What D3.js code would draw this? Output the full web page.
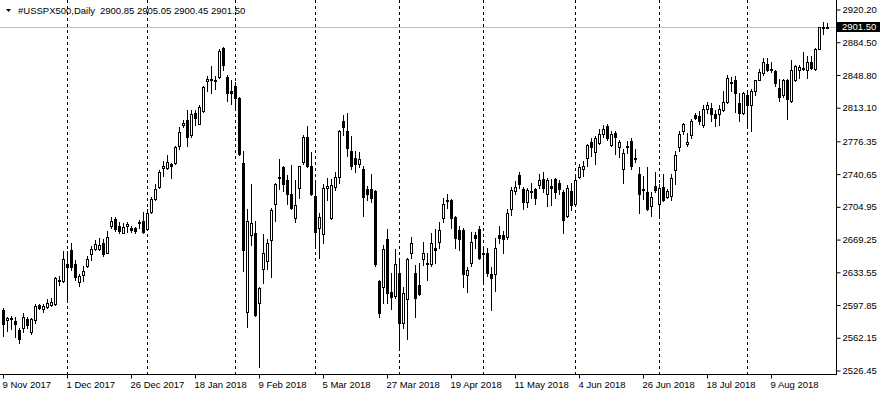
<!DOCTYPE html>
<html lang="en">
<head>
<meta charset="UTF-8">
<title>#USSPX500 Daily</title>
<script src="https://d3js.org/d3.v7.min.js"></script>
<style>
    body { margin: 0; background: #fff; }
    svg { display: block; }
    text { font-family: "Liberation Sans", Arial, sans-serif; font-size: 9.5px; fill: #000; }
</style>
</head>
<body>
<svg width="880" height="395"></svg>
<script>
    // daily bars, 9 Nov 2017 .. 29 Aug 2018
    const open = [
        2591.9, 2581.0, 2582.1, 2579.9, 2570.1, 2572.3, 2582.1, 2567.9, 2581.0, 2598.4,
        2593.0, 2595.2, 2598.4, 2599.5, 2624.6, 2624.6, 2642.1, 2658.4, 2643.1, 2623.5,
        2631.1, 2639.9, 2653.0, 2659.5, 2659.5, 2666.0, 2655.1, 2684.6, 2692.2, 2684.6,
        2676.9, 2684.6, 2682.4, 2682.4, 2686.8, 2689.0, 2681.3, 2698.8, 2714.0, 2727.1,
        2746.8, 2746.8, 2752.2, 2753.3, 2770.8, 2793.7, 2800.2, 2783.8, 2806.8, 2795.8,
        2810.0, 2841.7, 2844.9, 2843.8, 2847.1, 2878.7, 2847.1, 2831.8, 2837.3, 2824.2,
        2753.3, 2590.8, 2673.7, 2676.9, 2600.6, 2637.7, 2646.4, 2669.3, 2708.6, 2736.9,
        2747.9, 2733.7, 2719.5, 2693.3, 2726.0, 2754.4, 2780.6, 2750.0, 2717.3, 2682.4,
        2674.8, 2726.0, 2693.3, 2727.1, 2738.0, 2799.1, 2788.2, 2766.4, 2757.7, 2752.2,
        2745.7, 2724.9, 2723.9, 2721.7, 2624.6, 2617.0, 2670.4, 2612.6, 2607.2, 2633.3,
        2578.8, 2603.9, 2654.1, 2633.3, 2620.2, 2648.6, 2643.1, 2643.1, 2660.6, 2666.1,
        2693.3, 2712.9, 2711.9, 2694.4, 2680.2, 2680.2, 2631.1, 2644.2, 2673.7, 2681.3,
        2654.1, 2654.1, 2632.2, 2632.2, 2673.7, 2673.7, 2672.6, 2703.1, 2721.7, 2740.2,
        2723.9, 2709.7, 2721.7, 2724.9, 2729.3, 2734.8, 2719.5, 2728.2, 2734.8, 2731.5,
        2720.6, 2695.5, 2721.7, 2708.6, 2738.0, 2745.7, 2757.7, 2776.2, 2765.3, 2775.1,
        2784.9, 2792.6, 2772.9, 2786.0, 2769.7, 2745.7, 2770.8, 2777.3, 2757.7, 2741.3,
        2724.9, 2720.6, 2706.4, 2728.2, 2708.6, 2727.1, 2716.2, 2717.3, 2744.6, 2769.7,
        2788.2, 2774.0, 2782.8, 2804.6, 2803.5, 2793.7, 2812.2, 2813.3, 2805.7, 2805.7,
        2811.1, 2818.8, 2839.5, 2842.8, 2817.7, 2806.8, 2826.4, 2815.5, 2830.8, 2843.8,
        2850.4, 2861.3, 2855.8, 2852.6, 2835.1, 2826.4, 2842.8, 2820.9, 2842.8, 2853.7,
        2855.8, 2854.7, 2862.4, 2855.8, 2877.6, 2900.6, 2900.85
    ];
    const high = [
        2594.1, 2585.3, 2586.4, 2584.3, 2572.3, 2589.7, 2584.3, 2583.2, 2599.5, 2599.5,
        2599.5, 2603.9, 2605.0, 2627.9, 2629.0, 2657.3, 2657.3, 2665.0, 2647.5, 2632.2,
        2639.9, 2650.8, 2661.7, 2669.3, 2671.5, 2670.4, 2679.1, 2694.4, 2694.4, 2687.9,
        2686.8, 2687.9, 2684.6, 2683.5, 2691.1, 2698.8, 2703.1, 2716.2, 2730.4, 2744.6,
        2755.5, 2762.0, 2753.3, 2770.8, 2791.5, 2800.2, 2811.1, 2811.1, 2811.1, 2815.5,
        2837.3, 2848.2, 2859.1, 2848.2, 2877.6, 2879.8, 2849.3, 2843.8, 2840.6, 2825.3,
        2766.4, 2703.1, 2730.4, 2690.0, 2617.0, 2674.8, 2670.4, 2704.2, 2731.5, 2756.6,
        2749.0, 2740.2, 2751.1, 2733.7, 2750.0, 2783.8, 2792.6, 2765.3, 2731.5, 2697.7,
        2730.4, 2736.9, 2734.8, 2743.5, 2789.3, 2804.6, 2806.8, 2781.7, 2766.4, 2765.3,
        2749.0, 2728.2, 2741.3, 2722.8, 2625.7, 2662.8, 2681.3, 2633.3, 2659.5, 2649.7,
        2617.0, 2649.7, 2672.6, 2641.0, 2644.2, 2666.1, 2654.1, 2675.9, 2681.3, 2687.9,
        2715.1, 2719.5, 2714.0, 2695.5, 2684.6, 2682.4, 2638.8, 2678.0, 2678.0, 2684.6,
        2660.6, 2660.6, 2638.8, 2671.5, 2684.6, 2679.1, 2703.1, 2727.1, 2732.6, 2743.5,
        2727.1, 2726.0, 2731.5, 2726.0, 2741.3, 2743.5, 2735.9, 2734.8, 2736.9, 2733.7,
        2722.8, 2729.3, 2731.5, 2739.1, 2752.2, 2755.5, 2774.0, 2779.5, 2781.7, 2790.4,
        2793.7, 2794.8, 2788.2, 2788.2, 2778.4, 2767.5, 2777.3, 2779.5, 2767.5, 2747.9,
        2739.1, 2747.9, 2720.6, 2743.5, 2730.4, 2741.3, 2723.9, 2741.3, 2766.4, 2788.2,
        2796.9, 2786.0, 2801.3, 2806.8, 2810.0, 2815.5, 2818.8, 2817.7, 2811.1, 2815.5,
        2831.8, 2849.3, 2847.1, 2848.2, 2828.6, 2829.7, 2831.8, 2834.0, 2843.8, 2855.8,
        2866.8, 2866.8, 2862.4, 2853.7, 2844.9, 2844.9, 2844.9, 2864.6, 2860.2, 2860.2,
        2873.3, 2870.0, 2870.0, 2878.7, 2901.6, 2907.1, 2905.05
    ];
    const low = [
        2564.6, 2569.0, 2571.2, 2563.5, 2555.9, 2567.9, 2573.3, 2566.8, 2578.8, 2593.0,
        2590.8, 2594.1, 2597.3, 2598.4, 2619.2, 2623.5, 2602.8, 2636.6, 2625.7, 2618.1,
        2624.6, 2638.8, 2647.5, 2658.4, 2658.4, 2650.8, 2654.1, 2682.4, 2679.1, 2675.9,
        2675.9, 2678.0, 2678.0, 2676.9, 2682.4, 2676.9, 2680.2, 2697.7, 2712.9, 2726.0,
        2739.1, 2745.7, 2736.9, 2752.2, 2767.5, 2791.5, 2770.8, 2780.6, 2793.7, 2794.8,
        2807.9, 2830.8, 2828.6, 2834.0, 2846.0, 2854.7, 2820.9, 2816.6, 2813.3, 2762.0,
        2635.5, 2574.4, 2662.8, 2586.4, 2530.8, 2622.4, 2637.7, 2627.9, 2690.0, 2723.9,
        2721.7, 2708.6, 2703.1, 2688.9, 2715.1, 2752.2, 2748.9, 2718.4, 2660.6, 2649.7,
        2665.0, 2712.9, 2692.2, 2722.8, 2731.5, 2782.8, 2760.9, 2745.7, 2743.5, 2747.9,
        2695.5, 2711.9, 2709.7, 2639.9, 2584.3, 2600.6, 2600.6, 2593.0, 2605.0, 2551.5,
        2572.3, 2560.3, 2649.7, 2584.3, 2609.3, 2641.0, 2625.7, 2639.9, 2644.2, 2660.6,
        2687.9, 2704.2, 2682.4, 2660.6, 2658.4, 2617.0, 2612.6, 2639.9, 2660.6, 2648.6,
        2624.6, 2630.0, 2591.9, 2613.7, 2665.0, 2654.1, 2670.4, 2696.6, 2719.5, 2726.0,
        2703.1, 2705.3, 2715.1, 2708.6, 2726.0, 2720.6, 2706.4, 2707.5, 2715.1, 2719.5,
        2675.9, 2694.4, 2702.0, 2707.5, 2736.9, 2739.1, 2750.0, 2760.9, 2752.2, 2774.0,
        2780.6, 2778.4, 2771.8, 2763.1, 2758.8, 2731.5, 2764.2, 2745.7, 2754.4, 2697.7,
        2714.0, 2701.0, 2695.5, 2720.6, 2693.3, 2710.8, 2715.1, 2712.9, 2730.4, 2766.4,
        2784.9, 2771.8, 2779.5, 2801.3, 2794.8, 2791.5, 2806.8, 2799.1, 2792.6, 2793.7,
        2810.0, 2817.7, 2831.8, 2807.9, 2799.1, 2805.7, 2792.6, 2788.2, 2826.4, 2842.8,
        2849.3, 2852.6, 2851.5, 2837.3, 2820.9, 2825.3, 2801.3, 2819.8, 2841.7, 2846.0,
        2853.7, 2846.0, 2855.8, 2854.7, 2876.6, 2894.0, 2900.45
    ];
    const close = [
        2577.7, 2583.2, 2583.2, 2577.7, 2561.3, 2584.3, 2576.6, 2582.1, 2597.3, 2594.1,
        2597.3, 2600.6, 2601.7, 2626.8, 2625.7, 2648.6, 2638.8, 2638.8, 2627.9, 2629.0,
        2635.5, 2648.6, 2659.5, 2663.9, 2662.8, 2653.0, 2672.6, 2690.0, 2681.3, 2679.1,
        2683.5, 2685.7, 2680.2, 2679.1, 2687.9, 2678.0, 2697.7, 2714.0, 2724.9, 2743.5,
        2750.0, 2754.4, 2750.0, 2769.7, 2787.1, 2796.9, 2780.6, 2805.7, 2802.4, 2814.4,
        2836.2, 2844.9, 2842.8, 2841.7, 2874.4, 2860.2, 2828.6, 2828.6, 2824.2, 2763.1,
        2658.4, 2690.0, 2686.8, 2587.5, 2615.9, 2655.1, 2665.0, 2701.0, 2730.4, 2738.0,
        2730.4, 2719.5, 2704.2, 2707.5, 2749.0, 2780.6, 2750.0, 2719.5, 2678.0, 2694.4,
        2726.0, 2728.2, 2729.3, 2738.0, 2788.2, 2791.5, 2768.6, 2750.0, 2752.2, 2756.6,
        2716.2, 2719.5, 2715.1, 2643.1, 2589.7, 2659.5, 2611.5, 2606.1, 2643.1, 2578.8,
        2611.5, 2648.6, 2665.0, 2605.0, 2610.4, 2655.1, 2644.2, 2665.0, 2658.4, 2680.2,
        2708.6, 2710.8, 2693.3, 2671.5, 2670.4, 2632.2, 2636.6, 2667.1, 2671.5, 2649.7,
        2653.0, 2633.3, 2626.8, 2660.6, 2671.5, 2670.4, 2697.7, 2722.8, 2727.1, 2730.4,
        2709.7, 2722.8, 2720.6, 2715.1, 2733.7, 2726.0, 2733.7, 2726.0, 2720.6, 2724.9,
        2691.1, 2726.0, 2707.5, 2733.7, 2747.9, 2750.0, 2771.9, 2769.7, 2779.5, 2784.9,
        2790.4, 2779.5, 2784.9, 2780.6, 2776.2, 2764.2, 2769.7, 2750.0, 2756.6, 2719.5,
        2723.9, 2703.1, 2716.2, 2722.8, 2726.0, 2712.9, 2721.7, 2736.9, 2762.0, 2784.9,
        2795.8, 2776.2, 2799.1, 2802.4, 2799.1, 2812.2, 2815.5, 2805.7, 2802.4, 2812.2,
        2819.8, 2846.0, 2840.6, 2828.6, 2806.8, 2828.6, 2815.5, 2831.8, 2842.8, 2851.5,
        2862.4, 2853.7, 2853.7, 2839.5, 2825.3, 2842.8, 2823.1, 2853.7, 2859.1, 2858.0,
        2856.9, 2862.4, 2856.9, 2877.6, 2900.6, 2901.6, 2901.50
    ];

    // one date label every 16 bars
    const tickLabels = ["9 Nov 2017", "1 Dec 2017", "26 Dec 2017", "18 Jan 2018", "9 Feb 2018",
        "5 Mar 2018", "27 Mar 2018", "19 Apr 2018", "11 May 2018", "4 Jun 2018",
        "26 Jun 2018", "18 Jul 2018", "9 Aug 2018"];
    const tickStep = 16;
    // bar index of the first bar of each month (period separators)
    const monthStarts = [16, 36, 58, 78, 99, 120, 143, 164, 186];
    const priceTicks = [2526.45, 2562.15, 2597.85, 2633.55, 2669.25, 2704.95,
        2740.65, 2776.35, 2813.10, 2848.80, 2884.50, 2920.20];
    const symbol = "#USSPX500,Daily";
    const lastBid = 2901.50;

    const svg = d3.select("svg");
    const plotW = 836, plotH = 374;
    const n = open.length;

    const x = d3.scaleLinear()
        .domain([0, n - 1])
        .range([3.5, 3.5 + 4 * (n - 1)]);

    const y = d3.scaleLinear()
        .domain([2526.45, 2920.20])
        .range([370.5, 9.5]);

    // month separators
    svg.append("g")
        .selectAll("line")
        .data(monthStarts)
        .join("line")
        .attr("x1", d => Math.floor(x(d)) + 0.5)
        .attr("x2", d => Math.floor(x(d)) + 0.5)
        .attr("y1", 0)
        .attr("y2", plotH)
        .attr("stroke", "#000")
        .attr("stroke-dasharray", "3,3");

    // bid line
    svg.append("line")
        .attr("x1", 0).attr("x2", plotW)
        .attr("y1", Math.round(y(lastBid)) + 0.5)
        .attr("y2", Math.round(y(lastBid)) + 0.5)
        .attr("stroke", "#c0c0c0");

    const bars = d3.range(n);
    const candles = svg.append("g").attr("shape-rendering", "crispEdges");

    candles.selectAll("line")
        .data(bars)
        .join("line")
        .attr("x1", i => Math.floor(x(i)) + 0.5)
        .attr("x2", i => Math.floor(x(i)) + 0.5)
        .attr("y1", i => Math.round(y(high[i])))
        .attr("y2", i => Math.round(y(low[i])) + 1)
        .attr("stroke", "#000");

    candles.selectAll("rect")
        .data(bars)
        .join("rect")
        .each(function(i) {
            const r = d3.select(this);
            const cx = Math.floor(x(i));
            const yo = Math.round(y(open[i])), yc = Math.round(y(close[i]));
            if (close[i] > open[i]) {
                r.attr("x", cx - 0.5).attr("width", 2)
                    .attr("y", yc + 0.5).attr("height", Math.max(yo - yc, 1))
                    .attr("fill", "#fff").attr("stroke", "#000");
            } else {
                r.attr("x", cx - 1).attr("width", 3)
                    .attr("y", yo).attr("height", Math.max(yc - yo, 1) + 1)
                    .attr("fill", "#000");
            }
        });

    // axes frame
    svg.append("line")
        .attr("x1", 0).attr("x2", plotW + 1)
        .attr("y1", plotH + 0.5).attr("y2", plotH + 0.5)
        .attr("stroke", "#000");
    svg.append("line")
        .attr("x1", plotW + 0.5).attr("x2", plotW + 0.5)
        .attr("y1", 0).attr("y2", plotH + 1)
        .attr("stroke", "#000");

    const yAxis = svg.append("g")
        .attr("transform", `translate(${plotW + 0.5},0)`)
        .call(d3.axisRight(y).tickValues(priceTicks).tickFormat(d3.format(".2f")).tickSize(4).tickPadding(2));
    yAxis.select(".domain").remove();
    yAxis.selectAll("text").attr("font-family", null).attr("font-size", null);

    const xAxis = svg.append("g")
        .attr("transform", `translate(0,${plotH + 0.5})`)
        .call(d3.axisBottom(x)
            .tickValues(tickLabels.map((d, k) => k * tickStep))
            .tickFormat((d, k) => tickLabels[k])
            .tickSize(4).tickPadding(3));
    xAxis.select(".domain").remove();
    xAxis.selectAll(".tick line").attr("transform", "translate(-0.5,0)");
    xAxis.selectAll("text")
        .attr("text-anchor", "start")
        .attr("dx", -1.5)
        .attr("font-family", null).attr("font-size", null);

    // current price marker on the scale
    const by = Math.round(y(lastBid));
    svg.append("rect")
        .attr("x", plotW + 1).attr("y", by - 5)
        .attr("width", 880 - plotW - 1).attr("height", 10)
        .attr("fill", "#000");
    svg.append("text")
        .attr("x", plotW + 6).attr("y", by)
        .attr("dy", "0.35em")
        .style("fill", "#fff")
        .text(d3.format(".2f")(lastBid));

    // header: symbol and OHLC of the last bar
    svg.append("path")
        .attr("d", "M6,9L11,9L8.5,12Z")
        .attr("fill", "#000");
    svg.append("text")
        .attr("x", 18).attr("y", 14)
        .text(symbol);
    svg.append("text")
        .attr("x", 100).attr("y", 14)
        .text([open[n - 1], high[n - 1], low[n - 1], close[n - 1]].map(d3.format(".2f")).join(" "));
</script>
</body>
</html>
